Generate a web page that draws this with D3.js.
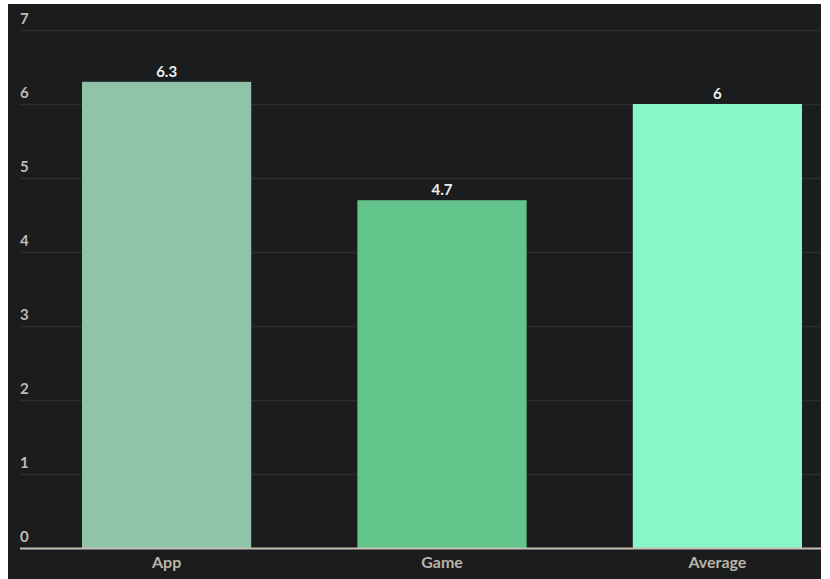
<!DOCTYPE html>
<html><head><meta charset="utf-8">
<script src="https://cdn.jsdelivr.net/npm/d3@7"></script>
<style>
html,body{margin:0;padding:0;background:#fff;}
svg{display:block;font-family:Lato,"Open Sans",sans-serif;}
</style></head>
<body>
<svg id="chart" width="830" height="579"></svg>
<script>
const categories = ["App", "Game", "Average"];
const values = [6.3, 4.7, 6];
const yTicks = [0, 1, 2, 3, 4, 5, 6, 7];
const barColors = ["#8fc4a9", "#62c48a", "#86f7c9"];

const svg = d3.select("#chart");
svg.append("rect").attr("x", 8).attr("y", 4).attr("width", 813).attr("height", 575).attr("fill", "#1b1c1e");

const y = d3.scaleLinear().domain([0, 7]).range([548, 30]);
const x = d3.scaleBand().domain(categories).range([82, 802]).paddingInner(0.3855).paddingOuter(0);

// grid
const grid = svg.append("g");
grid.selectAll("line").data(yTicks.filter(d => d > 0)).join("line")
  .attr("x1", 20).attr("x2", 821)
  .attr("y1", d => Math.round(y(d)) + 0.5).attr("y2", d => Math.round(y(d)) + 0.5)
  .attr("stroke", "#2b2c2f").attr("stroke-width", 1.5);

// y labels
svg.append("g").selectAll("text").data(yTicks).join("text")
  .attr("x", 20).attr("y", d => y(d) - 6)
  .attr("fill", "#bcbcbc").attr("font-size", 15).attr("font-weight", "bold")
  .text(d => d);

// bars
svg.append("g").selectAll("rect").data(values).join("rect")
  .attr("x", (d, i) => x(categories[i]))
  .attr("y", d => y(d))
  .attr("width", x.bandwidth())
  .attr("height", d => y(0) - y(d))
  .attr("fill", (d, i) => barColors[i]);

// value labels
svg.append("g").selectAll("text").data(values).join("text")
  .attr("x", (d, i) => x(categories[i]) + x.bandwidth() / 2)
  .attr("y", d => y(d) - 5)
  .attr("text-anchor", "middle")
  .attr("fill", "#eeeeee").attr("font-size", 15).attr("font-weight", "bold")
  .text(d => d);

// x axis
const xAxis = svg.append("g").attr("transform", `translate(0,${y(0)})`)
  .call(d3.axisBottom(x).tickSize(0).tickPadding(9));
xAxis.select(".domain").remove();
xAxis.append("line").attr("x1", 20).attr("x2", 821).attr("y1", 0.5).attr("y2", 0.5)
  .attr("stroke", "#c8c0b4").attr("stroke-width", 2);
xAxis.selectAll(".tick text").attr("fill", "#bbb4a9").attr("font-size", 16).attr("font-weight", "bold")
  .attr("font-family", "Lato, 'Open Sans', sans-serif");
</script>
</body></html>
